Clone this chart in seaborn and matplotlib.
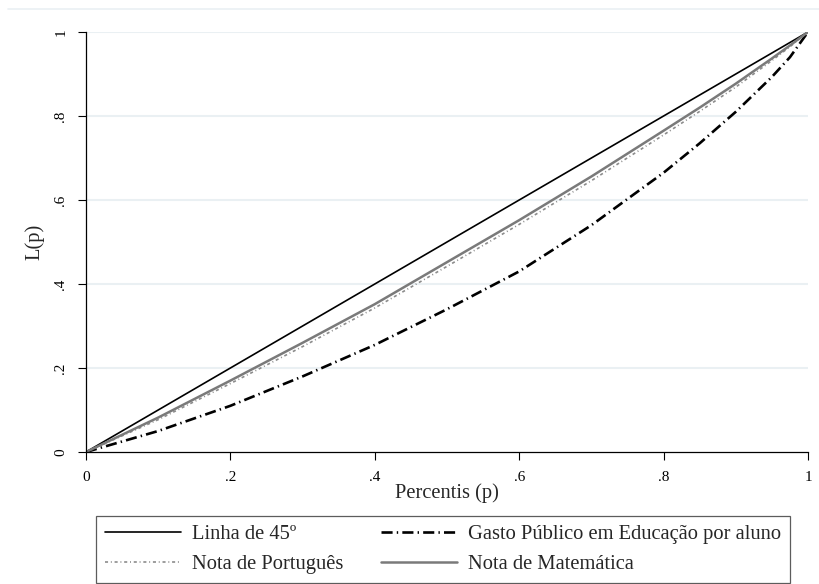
import numpy as np
import pandas as pd
import seaborn as sns
import matplotlib.pyplot as plt
from matplotlib.lines import Line2D

# Lorenz curves
p = [0, 0.1, 0.2, 0.3, 0.4, 0.5, 0.6, 0.7, 0.8, 0.85, 0.9, 0.95, 0.975, 1.0]
gasto = [0, 0.05, 0.11, 0.18, 0.255, 0.34, 0.43, 0.54, 0.665, 0.735, 0.81, 0.893, 0.94, 1.0]
matematica = [0, 0.082, 0.17, 0.26, 0.352, 0.452, 0.552, 0.656, 0.765, 0.82, 0.877, 0.937, 0.968, 1.0]
portugues = [0, 0.077, 0.163, 0.251, 0.343, 0.442, 0.542, 0.646, 0.755, 0.811, 0.869, 0.932, 0.965, 1.0]

tick_vals = [0, 0.2, 0.4, 0.6, 0.8, 1]
tick_labels = ["0", ".2", ".4", ".6", ".8", "1"]

sns.set_style("white")
plt.rcParams['font.family'] = ['Liberation Serif', 'DejaVu Serif']
plt.rcParams['lines.scale_dashes'] = False

fig = plt.figure(figsize=(8.2, 5.84), dpi=100)
ax = fig.add_axes([86 / 820, 1 - 452 / 584, 722 / 820, 420 / 584])

grid_color = '#eaf0f3'
for v in tick_vals[1:]:
    ax.axhline(v, color=grid_color, linewidth=1.5, zorder=0)

sns.lineplot(x=p, y=p, ax=ax, color='black', linewidth=1.2, label='Linha de 45º')
sns.lineplot(x=p, y=gasto, ax=ax, color='black', linewidth=1.9,
             label='Gasto Público em Educação por aluno')
sns.lineplot(x=p, y=portugues, ax=ax, color='#8c8c8c', linewidth=1.2,
             label='Nota de Português')
sns.lineplot(x=p, y=matematica, ax=ax, color='#7a7a7a', linewidth=1.8,
             label='Nota de Matemática')

lines = ax.get_lines()[-4:]
lines[1].set_dashes((8, 3, 1, 3))
lines[2].set_dashes((2.2, 2.0, 0.7, 2.0))

ax.set_xlim(0, 1)
ax.set_ylim(0, 1)
ax.set_xticks(tick_vals)
ax.set_xticklabels(tick_labels)
ax.set_yticks(tick_vals)
ax.set_yticklabels(tick_labels, rotation=90, va='center')
ax.tick_params(axis='both', direction='out', length=6, width=0.8,
               labelsize=11, colors='black', bottom=True, left=True, pad=7.5)
for s in ['top', 'right']:
    ax.spines[s].set_visible(False)
for s in ['left', 'bottom']:
    ax.spines[s].set_color('black')
    ax.spines[s].set_linewidth(0.9)

ax.set_xlabel('Percentis (p)', fontsize=14.8, labelpad=-0.5)
ax.set_ylabel('L(p)', fontsize=14.8, labelpad=7)

ax.get_legend().remove()
handles = [lines[0], lines[2], lines[1], lines[3]]
labels = [h.get_label() for h in handles]
leg = fig.legend(handles, labels, loc='upper left', ncol=2,
                 bbox_to_anchor=(96 / 820, 1 - 516 / 584),
                 fontsize=14.8, frameon=True, fancybox=False, handlelength=3.7,
                 handletextpad=0.55, borderaxespad=0, columnspacing=1.8,
                 labelspacing=0.5, borderpad=0.43)
leg.get_frame().set_edgecolor('#333333')
leg.get_frame().set_linewidth(0.9)

fig.add_artist(Line2D([0.01, 1.0], [1 - 9 / 584] * 2, color=grid_color, linewidth=1.2))

plt.savefig('out.png', dpi=100)
plt.close()
